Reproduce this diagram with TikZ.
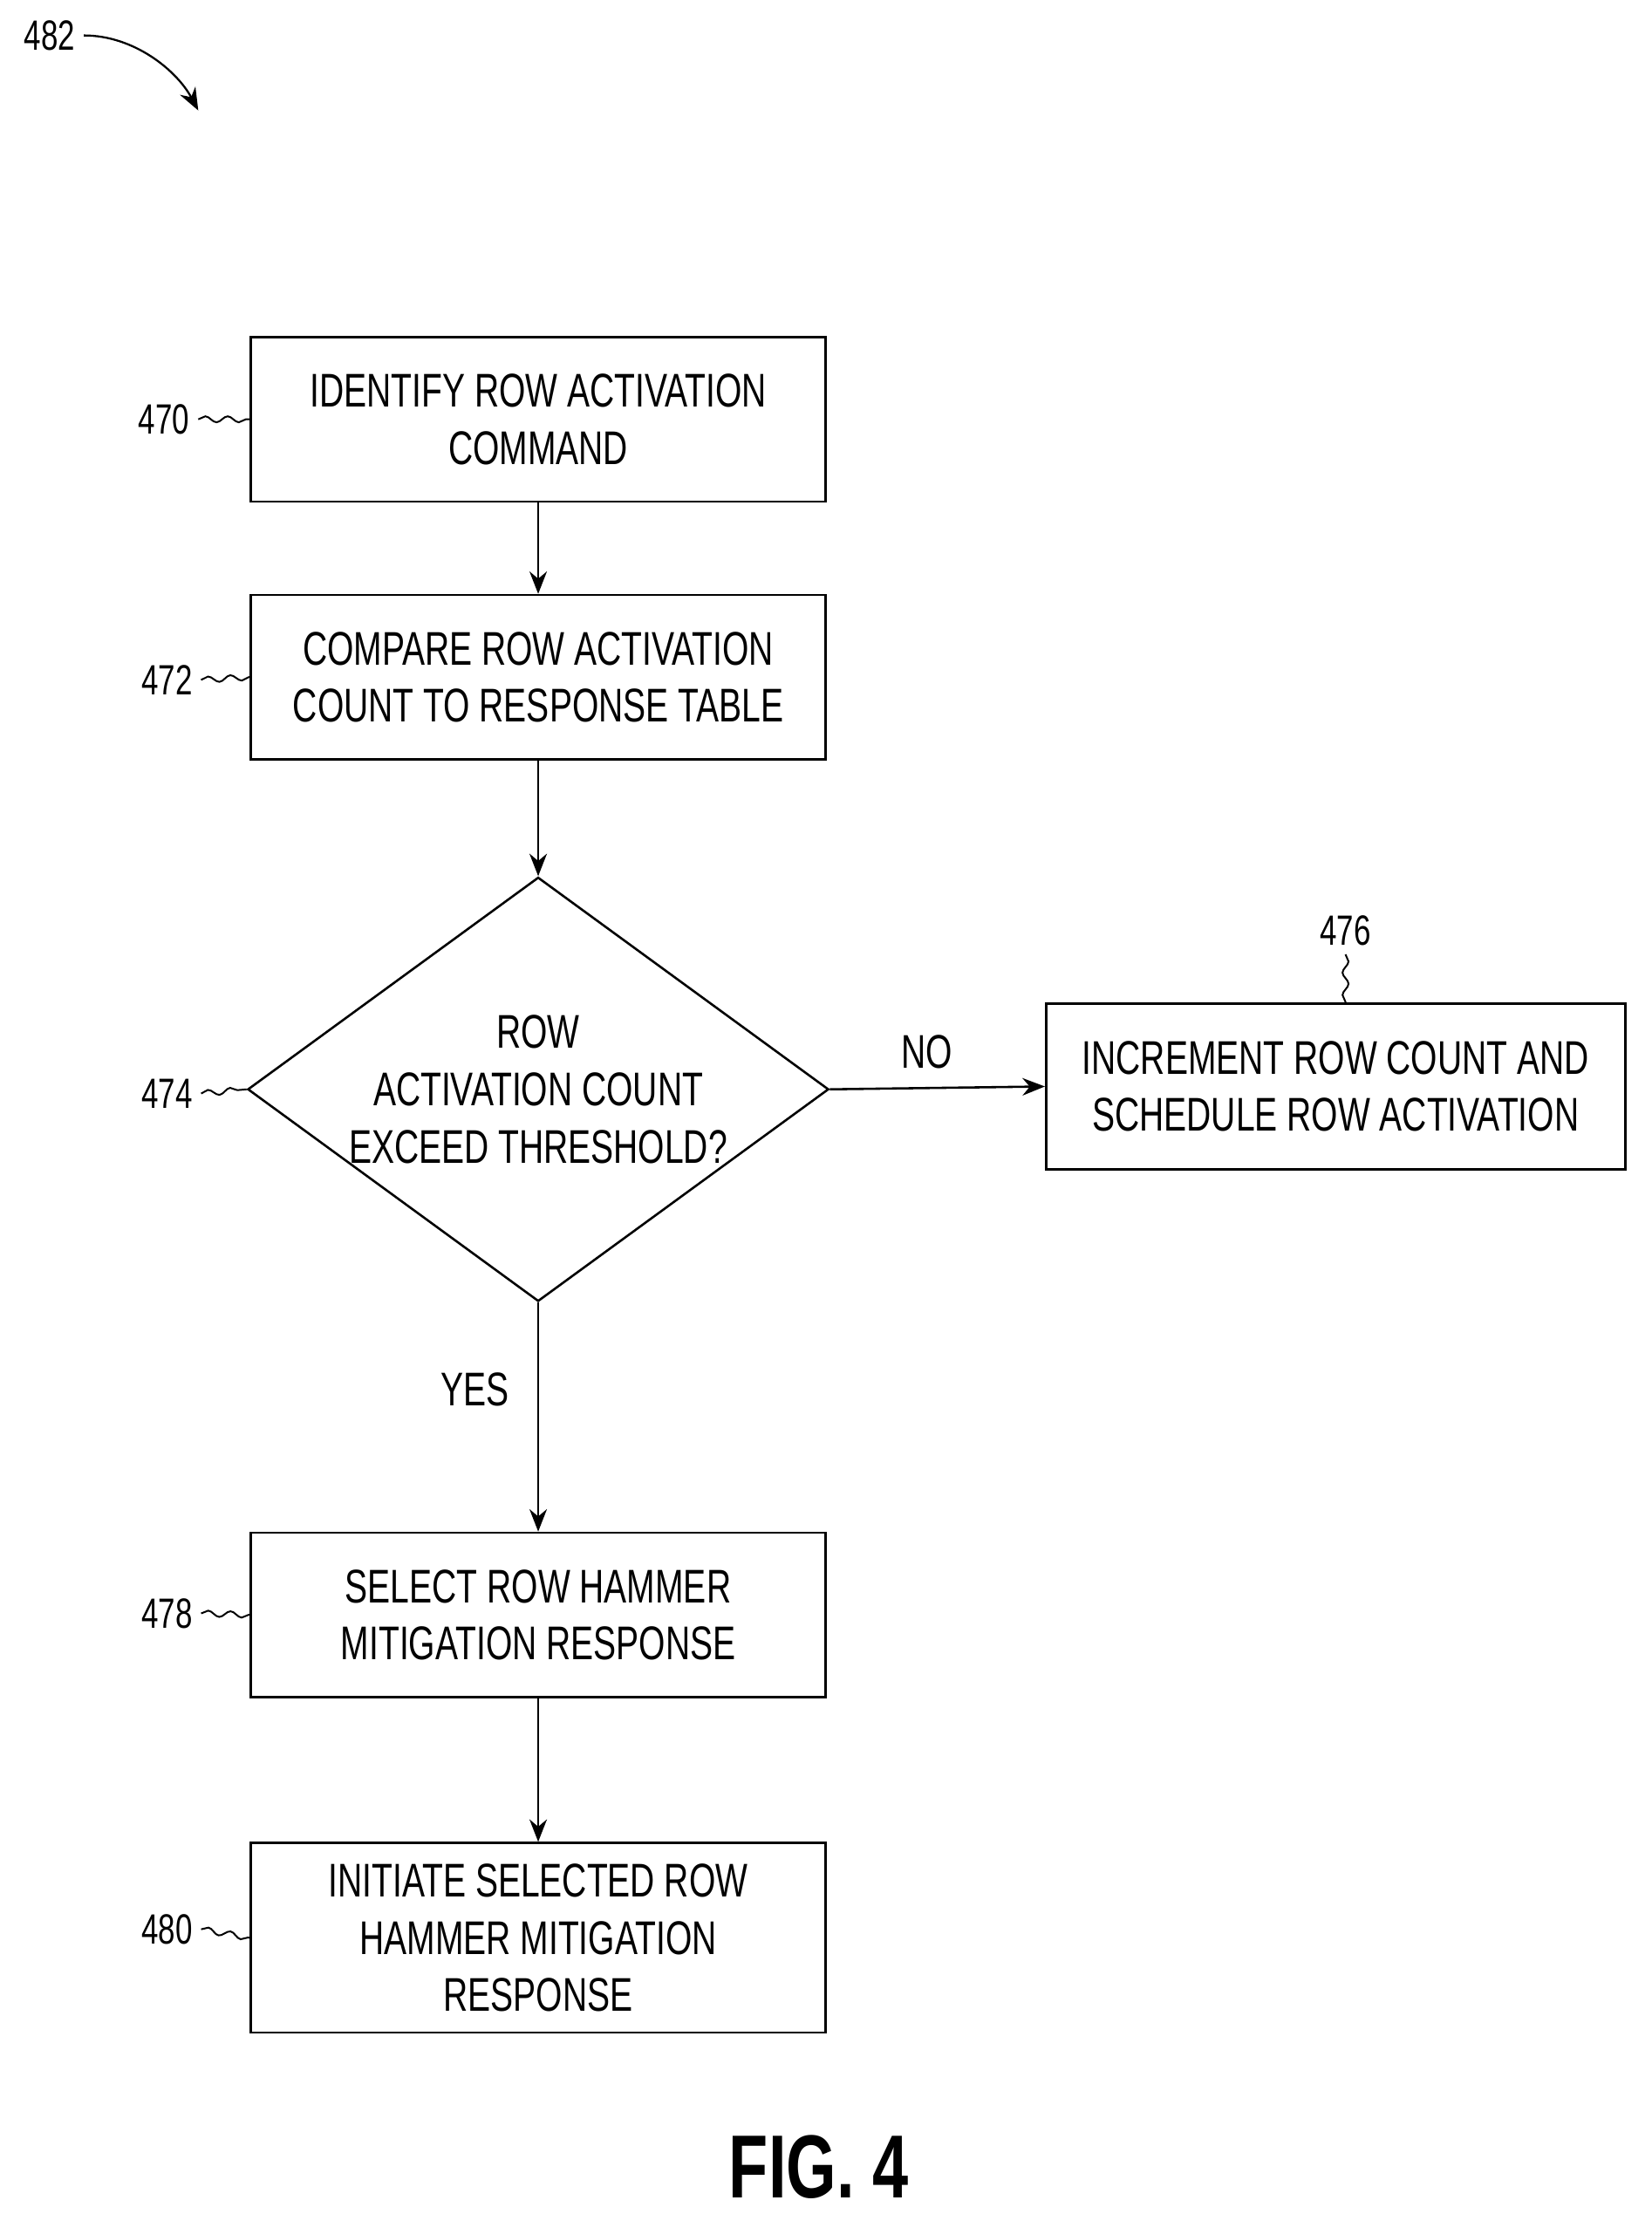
\documentclass[tikz,border=0pt]{standalone}
\usepackage{fontspec}
\setmainfont{Liberation Sans}[FakeStretch=0.72]
\usetikzlibrary{shapes.geometric, arrows.meta, positioning, decorations.pathmorphing}
\begin{document}
\begin{tikzpicture}[x=0.02cm, y=-0.02cm,
    box/.style={draw, line width=0.9pt, minimum width=8.12cm, minimum height=2.32cm, align=center, font=\fontsize{19}{23}\selectfont},
    dia/.style={draw, diamond, line width=0.9pt, minimum width=8.12cm, minimum height=5.92cm, aspect=1.37, inner sep=0pt, align=center, font=\fontsize{19}{23}\selectfont},
    ref/.style={font=\fontsize{17}{20}\selectfont},
    lbl/.style={font=\fontsize{19}{23}\selectfont},
    flow/.style={-{Stealth[length=9pt, width=7pt]}, line width=0.9pt},
    squig/.style={line width=0.7pt, decorate, decoration={snake, amplitude=1.2pt, segment length=9pt}}]
    \useasboundingbox (0,0) rectangle (1166,1563);
    % --- boxes ---
    \node[box] (identify) at (380,296) {IDENTIFY ROW ACTIVATION\\COMMAND};
    \node[box] (compare) at (380,478) {COMPARE ROW ACTIVATION\\COUNT TO RESPONSE TABLE};
    \node[dia] (exceed) at (380,769) {ROW\\ACTIVATION COUNT\\EXCEED THRESHOLD?};
    \node[box, minimum width=8.18cm, minimum height=2.34cm] (increment) at (943,767) {INCREMENT ROW COUNT AND\\SCHEDULE ROW ACTIVATION};
    \node[box] (select) at (380,1140) {SELECT ROW HAMMER\\MITIGATION RESPONSE};
    \node[box, minimum height=2.68cm] (initiate) at (380,1368) {INITIATE SELECTED ROW\\HAMMER MITIGATION\\RESPONSE};
    % --- flow ---
    \draw[flow] (identify) -- (compare);
    \draw[flow] (compare) -- (exceed);
    \draw[flow] (exceed.east) -- node[lbl, above=4pt, pos=0.45] {NO} (increment.west);
    \draw[flow] (exceed.south) -- node[lbl, left=8pt, pos=0.38] {YES} (select.north);
    \draw[flow] (select) -- (initiate);
    % --- reference numerals ---
    \node[ref, anchor=east] (n470) at (140,296) {470};
    \node[ref, anchor=east] (n472) at (142,480) {472};
    \node[ref, anchor=east] (n474) at (142,772) {474};
    \node[ref, anchor=east] (n478) at (142,1139) {478};
    \node[ref, anchor=east] (n480) at (142,1362) {480};
    \node[ref] (n476) at (950,657) {476};
    \draw[squig] (n470.east) -- (identify.west);
    \draw[squig] (n472.east) -- (compare.west);
    \draw[squig] (n474.east) -- (exceed.west);
    \draw[squig] (n478.east) -- (select.west);
    \draw[squig] (n480.east) -- (initiate.west);
    \draw[squig] (n476.south) -- (increment.north -| n476.south);
    \node[ref] (n482) at (35,25) {482};
    \coordinate (tip482) at (140,78);
    \draw[line width=0.8pt, -{Stealth[length=9pt, width=7pt]}] (n482.east) .. controls (95,25) and (125,50) .. (tip482);
    % --- caption ---
    \node[font=\fontsize{36}{40}\selectfont\bfseries, scale=1] (caption) at (578,1530) {FIG. 4};
\end{tikzpicture}
\end{document}
